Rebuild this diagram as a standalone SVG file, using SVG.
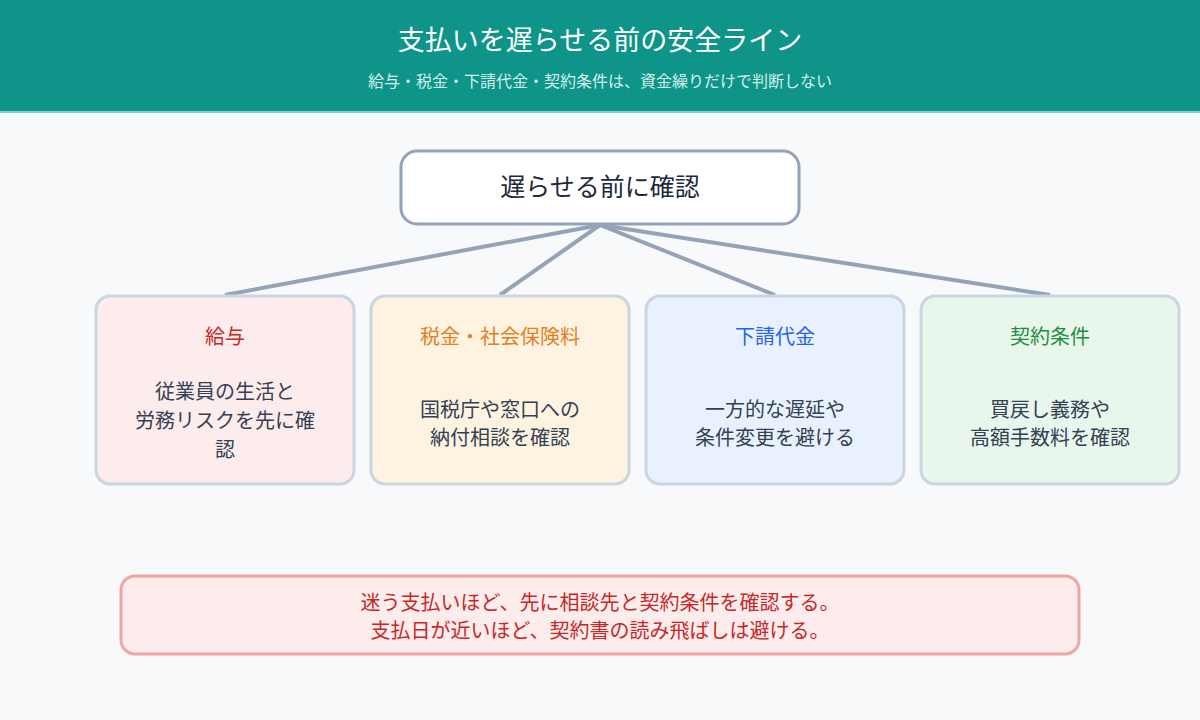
<svg xmlns="http://www.w3.org/2000/svg" width="1200" height="720" viewBox="0 0 1200 720">
<style>
text{font-family:"Noto Sans CJK JP","Noto Sans",sans-serif;text-anchor:middle;dominant-baseline:central}
.title{font-size:27px;fill:#ffffff}
.sub{font-size:16px;fill:#d4f1ec}
.box{stroke:#cbd5e1;stroke-width:3}
.head{font-size:20px}
.body{font-size:20px;fill:#334155}
.conn{stroke:#94a3b8;stroke-width:4;fill:none}
</style>
<rect width="1200" height="720" fill="#f7f9fb"/>
<g id="header">
<rect x="0" y="0" width="1200" height="112" fill="#0e9488"/>
<rect x="0" y="111" width="1200" height="2" fill="#7fcfc6"/>
<text class="title" x="600" y="38">支払いを遅らせる前の安全ライン</text>
<text class="sub" x="600" y="80">給与・税金・下請代金・契約条件は、資金繰りだけで判断しない</text>
</g>
<g id="connectors">
<line class="conn" x1="600" y1="225" x2="225" y2="295"/>
<line class="conn" x1="600" y1="225" x2="500" y2="295"/>
<line class="conn" x1="600" y1="225" x2="775" y2="295"/>
<line class="conn" x1="600" y1="225" x2="1050" y2="295"/>
</g>
<g id="root">
<rect x="401" y="151" width="398" height="73" rx="16" fill="#ffffff" stroke="#94a3b8" stroke-width="3"/>
<text x="600" y="185" font-size="25" fill="#1e293b">遅らせる前に確認</text>
</g>
<g id="salary">
<rect class="box" x="96" y="296" width="258" height="188" rx="14" fill="#fdecec"/>
<text class="head" x="225" y="335" fill="#c62828">給与</text>
<text class="body" x="225" y="390">従業員の生活と</text>
<text class="body" x="225" y="419">労務リスクを先に確</text>
<text class="body" x="225" y="448">認</text>
</g>
<g id="tax">
<rect class="box" x="371" y="296" width="258" height="188" rx="14" fill="#fef3e0"/>
<text class="head" x="500" y="335" fill="#e67e22">税金・社会保険料</text>
<text class="body" x="500" y="408">国税庁や窓口への</text>
<text class="body" x="500" y="436">納付相談を確認</text>
</g>
<g id="subcontract">
<rect class="box" x="646" y="296" width="258" height="188" rx="14" fill="#eaf1fe"/>
<text class="head" x="775" y="335" fill="#2563eb">下請代金</text>
<text class="body" x="775" y="408">一方的な遅延や</text>
<text class="body" x="775" y="436">条件変更を避ける</text>
</g>
<g id="contract">
<rect class="box" x="921" y="296" width="258" height="188" rx="14" fill="#e9f6ec"/>
<text class="head" x="1050" y="335" fill="#1e8e3e">契約条件</text>
<text class="body" x="1050" y="408">買戻し義務や</text>
<text class="body" x="1050" y="436">高額手数料を確認</text>
</g>
<g id="note">
<rect x="121" y="576" width="958" height="78" rx="14" fill="#fdecec" stroke="#f4a3a3" stroke-width="3"/>
<text x="600" y="601" font-size="20" fill="#c62828">迷う支払いほど、先に相談先と契約条件を確認する。</text>
<text x="600" y="629" font-size="20" fill="#c62828">支払日が近いほど、契約書の読み飛ばしは避ける。</text>
</g>
</svg>
